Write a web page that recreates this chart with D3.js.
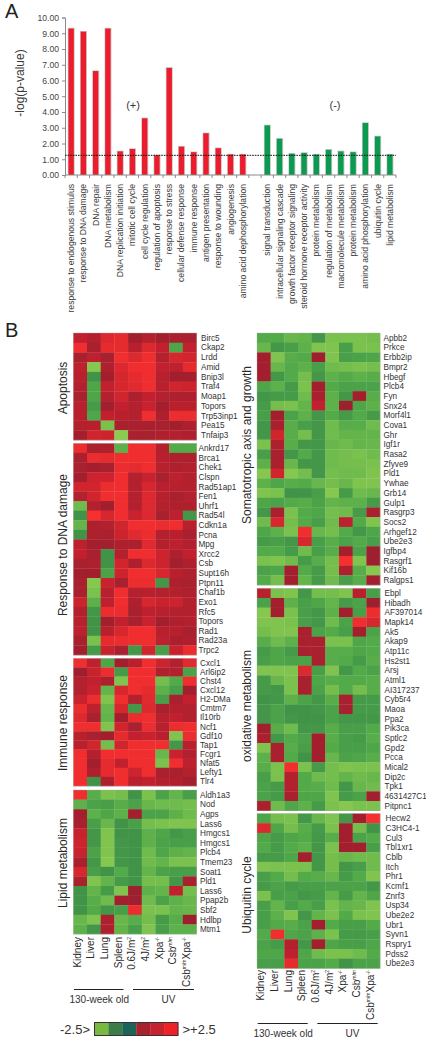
<!DOCTYPE html>
<html><head><meta charset="utf-8">
<script src="https://cdn.jsdelivr.net/npm/d3@7"></script>
<style>html,body{margin:0;padding:0;background:#fff}svg{display:block}text{font-family:"Liberation Sans",Arial,sans-serif}</style>
</head><body><svg id="c" width="426" height="1050"></svg>
<script>
const enrichLabels=["response to endogenous stimulus","response to DNA damage","DNA repair","DNA metabolism","DNA replication initiation","mitotic cell cycle","cell cycle regulation","regulation of apoptosis","response to stress","cellular defense response","immune response","antigen presentation","response to wounding","angiogenesis","amino acid dephosphorylation"];
const enrichValues=[9.3,9.1,6.6,9.3,1.5,1.65,3.6,1.25,6.8,1.8,1.45,2.65,1.7,1.3,1.3];
const depleteLabels=["signal transduction","intracellular signaling cascade","growth factor receptor signaling","steroid hormone receptor activity","protein metabolism","regulation of metabolism","macromolecule metabolism","protein metabolism","amino acid phosphorylation","ubiquitin cycle","lipid metabolism"];
const depleteValues=[3.15,2.3,1.35,1.4,1.3,1.6,1.5,1.45,3.3,2.45,1.3];
const thresholdValue=1.25;
const yTicks=[0,1,2,3,4,5,6,7,8,9,10];

const apoptosisGenes=["Birc5","Ckap2","Lrdd","Amid","Bnip3l","Traf4","Moap1","Topors","Trp53inp1","Pea15","Tnfaip3"];
const apoptosisRows=[
[1.5,1.2,2.0,2.2,0.9,1.2,0.9,1.0,1.0],
[2.4,1.0,2.2,2.2,1.3,2.0,1.5,-1.4,1.5],
[1.0,1.4,1.0,2.4,2.0,2.4,1.2,1.9,1.8],
[1.4,-2.4,1.1,2.0,2.4,2.4,1.5,1.4,2.2],
[1.3,-0.9,0.9,1.9,2.2,2.4,1.3,0.9,0.9],
[1.2,-1.4,1.5,1.9,2.1,2.4,1.3,1.8,1.7],
[1.0,-1.4,1.2,1.8,1.1,1.5,1.2,1.1,1.1],
[1.3,-1.1,0.9,1.5,1.2,1.6,0.9,1.3,1.3],
[1.3,-1.4,1.5,1.3,1.2,2.4,1.1,2.3,2.3],
[1.2,1.3,-2.2,1.0,1.0,1.0,1.0,0.9,1.1],
[0.9,1.8,1.7,-2.5,1.0,1.0,1.1,1.2,1.1]];
const damageGenes=["Ankrd17","Brca1","Chek1","Clspn","Rad51ap1","Fen1","Uhrf1","Rad54l","Cdkn1a","Pcna","Mpg","Xrcc2","Csb","Supt16h","Ptpn11","Chaf1b","Exo1","Rfc5","Topors","Rad1","Rad23a","Trpc2"];
const damageRows=[
[2.3,1.0,1.1,-1.7,2.4,2.4,1.2,-1.5,-1.5],
[1.0,2.3,2.2,2.4,2.4,2.4,1.3,1.1,1.1],
[1.0,0.9,1.0,2.3,2.2,2.4,1.3,1.1,1.2],
[0.9,1.7,1.7,2.4,1.2,1.6,1.0,1.4,1.2],
[1.8,1.8,2.3,2.4,1.2,1.9,1.3,1.3,1.2],
[1.2,1.8,2.4,2.4,1.2,2.0,1.3,1.0,1.2],
[-2.0,1.2,0.9,2.4,1.2,2.0,1.2,1.1,1.1],
[-0.9,2.5,1.9,2.4,1.6,2.0,1.0,1.4,-1.0],
[-1.8,1.1,1.2,1.8,2.4,2.4,2.3,2.4,1.3],
[-0.9,1.1,1.0,1.7,2.1,2.3,1.2,1.3,1.0],
[1.4,0.9,0.9,1.1,1.0,2.1,1.2,1.4,1.2],
[1.5,1.0,-0.9,1.2,2.4,2.4,1.7,1.1,1.5],
[1.0,1.1,-0.9,1.8,1.1,2.0,1.7,0.9,1.1],
[0.9,0.9,-1.3,1.7,2.4,2.4,1.9,1.3,1.1],
[1.0,-2.4,1.6,1.0,2.3,2.3,-1.0,1.1,1.0],
[1.0,-2.2,1.3,2.4,1.2,1.3,1.2,1.2,1.1],
[1.7,-1.7,1.4,2.4,1.1,1.9,1.6,1.7,1.2],
[1.2,-1.0,2.3,2.3,1.0,1.4,1.3,1.2,1.2],
[1.3,-0.9,0.9,1.5,1.0,1.6,0.9,1.1,1.2],
[1.4,-0.9,1.3,1.9,2.4,2.4,1.3,1.3,1.0],
[1.0,-2.2,2.2,2.3,2.4,2.4,1.4,1.0,1.1],
[0.9,-1.1,1.6,1.0,-1.0,1.8,-1.2,1.6,2.3]];
const immuneGenes=["Cxcl1","Arl6ip2","Chst4","Cxcl12","H2-DMa","Cmtm7","Il10rb","Ncf1","Gdf10","Tap1","Fcgr1","Nfat5","Lefty1","Tlr4"];
const immuneRows=[
[2.4,1.4,-1.4,0.9,1.3,2.4,1.7,1.2,2.1],
[0.8,1.6,2.3,-1.1,2.4,2.4,1.1,1.2,-1.3],
[1.2,1.5,1.1,-2.3,2.4,2.4,-2.1,-1.5,2.4],
[1.2,1.6,-1.8,1.9,2.4,2.2,-1.7,-1.2,0.9],
[1.6,2.3,-2.3,2.4,1.2,2.1,-1.2,1.0,1.5],
[2.3,1.4,-1.9,1.9,-1.0,2.0,1.0,1.2,1.2],
[2.0,1.0,-1.8,0.9,2.3,2.4,1.3,1.5,1.2],
[2.4,2.4,-2.3,1.8,1.0,2.3,1.3,2.3,2.4],
[1.3,1.0,0.9,2.2,1.5,1.6,1.3,-2.3,2.3],
[1.3,1.8,-2.1,1.8,2.4,2.4,2.4,-1.0,1.3],
[2.4,1.2,2.4,2.4,2.4,2.4,-1.9,1.6,1.2],
[2.4,0.9,2.2,1.5,2.4,2.4,-2.2,2.4,1.4],
[2.4,1.1,2.2,2.4,1.7,2.4,1.0,1.0,1.2],
[2.4,-0.9,1.1,2.4,1.3,1.5,1.2,1.1,0.9]];
const lipidGenes=["Aldh1a3","Nod","Agps","Lass6","Hmgcs1","Hmgcs1","Plcb4","Tmem23","Soat1","Pld1","Lass6","Ppap2b","Sbf2","Hdlbp","Mtm1"];
const lipidRows=[
[2.4,-1.6,-2.2,-2.1,-0.9,-2.2,-1.3,-1.8,-1.2],
[-1.7,-1.3,-1.2,-1.6,-1.3,-1.9,-2.0,-2.0,-2.1],
[0.9,-1.7,-1.4,-1.7,0.9,-1.3,-1.3,-1.7,-2.0],
[1.0,-1.2,-1.9,-0.9,-1.2,-2.1,-2.2,-2.3,-2.3],
[1.6,-1.0,-2.3,-0.9,-0.9,-1.7,-1.4,-1.0,-1.2],
[1.7,-1.0,-2.3,-1.0,-0.9,-1.7,-1.3,-1.2,-1.2],
[1.6,-1.3,-2.3,-1.0,-0.9,-2.0,-1.4,-1.7,-1.8],
[1.0,-1.0,-2.4,-1.0,-0.9,-2.0,-1.8,-2.2,-2.2],
[1.9,-1.2,-0.9,-1.5,-0.9,-1.8,-1.3,-1.2,-1.2],
[1.0,-2.3,-1.8,-1.1,-0.9,-2.1,-2.1,-1.0,1.0],
[-0.9,-1.8,-1.1,-2.3,0.8,-1.7,-1.8,1.5,-2.1],
[-0.9,-1.6,-2.0,0.9,0.8,-2.0,-1.3,-1.7,-1.9],
[-0.9,-1.5,-1.0,-1.2,2.3,-2.2,-2.2,-1.8,-1.9],
[-1.9,-2.3,1.1,-1.9,-1.6,-2.1,-1.1,-1.6,0.8],
[-1.7,-1.0,1.1,-1.8,-1.2,-2.3,-1.2,-1.7,-1.7]];
const somatoGenes=["Apbb2","Prkce","Erbb2ip","Bmpr2","Hbegf","Plcb4","Fyn","Snx24","Morf4l1","Cova1","Ghr","Igf1r","Rasa2","Zfyve9","Pld1","Ywhae","Grb14","Gulp1","Rasgrp3","Socs2","Arhgef12","Ube2e3","Igfbp4","Rasgrf1","Kif16b","Ralgps1"];
const somatoRows=[
[-1.5,-1.5,-1.9,-1.8,-1.0,-2.2,-2.2,-2.2,-2.1],
[-1.9,-1.0,-1.2,-1.7,-2.3,-2.3,-1.2,-2.2,-2.2],
[0.9,-2.3,-1.6,-1.5,0.8,-2.3,-1.2,-1.3,-1.4],
[0.9,-1.9,-1.5,-1.7,-1.2,-2.0,-2.1,-2.2,-2.1],
[0.9,-1.0,-1.5,-2.1,-1.0,-1.7,-1.5,-1.7,-1.6],
[-1.4,-1.7,-1.1,-2.2,0.9,-1.5,-1.3,-1.3,-1.3],
[-1.0,-1.1,-1.1,-2.0,1.0,-1.7,-1.0,0.9,-1.6],
[-1.1,-2.1,-2.2,-1.8,1.5,-1.7,0.8,-1.4,-1.7],
[-1.2,0.9,-1.3,-1.7,-1.0,-1.5,-1.1,-1.5,-1.1],
[-1.0,1.0,-1.6,-1.2,-1.0,-2.0,-1.6,-1.6,-2.0],
[-1.0,1.8,-1.6,-2.1,-1.0,-2.0,-1.8,-1.8,-1.8],
[-2.2,1.1,-1.6,-1.0,-1.0,-1.9,-2.0,-1.8,-1.9],
[-1.2,1.0,-1.0,-1.5,-1.0,-2.0,-2.1,-2.2,-2.0],
[-1.7,1.0,-1.9,-1.0,-1.0,-2.0,-2.1,-2.1,-2.2],
[-2.4,1.8,-2.4,-2.1,-1.0,-2.1,-2.0,-2.0,-2.3],
[-1.7,-1.4,-1.6,-1.5,-1.9,-2.1,-1.9,-2.3,-2.3],
[-2.3,-2.2,-0.9,-0.9,-1.2,-2.4,-1.1,-2.0,-1.9],
[-1.4,-1.3,-1.5,-1.6,-1.3,-1.8,-1.7,-1.7,-1.1],
[-1.0,1.0,-2.2,-1.5,-1.4,-2.1,-2.0,-1.1,1.0],
[-2.0,1.9,-2.1,-1.5,-1.2,-2.0,1.4,-1.5,-2.3],
[-1.4,-1.7,-2.2,2.4,-1.9,-2.1,-1.5,-1.0,-1.4],
[-1.1,-1.2,-1.0,1.9,-1.2,-1.6,-1.3,-1.5,-1.2],
[-1.5,-1.5,-1.1,-2.0,-1.2,-1.6,0.9,-1.3,0.8],
[-2.2,-2.3,-2.0,-1.1,-1.6,-2.1,2.5,-2.3,0.8],
[-1.3,-1.4,0.9,-1.5,-1.1,-2.1,1.1,-1.6,-2.4],
[-1.5,-2.1,0.9,-1.8,-1.1,-2.0,-1.2,-1.6,0.9]];
const oxidativeGenes=["Ebpl","Hibadh","AF397014","Mapk14","Ak5","Akap9","Atp11c","Hs2st1","Arsj","Atml1","AI317237","Cyb5r4","Maoa","Ppa2","Pik3ca","Sptlc2","Gpd2","Pcca","Mical2","Dip2c","Tpk1","4631427C1","Pitpnc1"];
const oxidativeRows=[
[1.3,-2.2,-2.3,-1.0,-2.1,-2.1,-2.3,1.3,-1.2],
[-1.3,0.9,-1.7,-1.2,-1.4,-1.8,-1.1,-1.3,0.8],
[-2.4,0.9,-2.2,-1.2,-1.0,-1.7,0.9,-1.2,2.3],
[-2.3,-2.3,-2.2,-1.2,-1.0,-2.0,-1.3,2.4,1.9],
[-2.1,-2.3,-2.3,1.0,-1.3,-1.5,-1.2,0.9,-1.3],
[-1.6,-2.0,-1.7,1.0,1.0,-2.2,-2.2,-1.4,-1.5],
[-1.1,-1.4,-1.1,1.0,1.0,-1.6,-1.6,-1.4,-1.5],
[-1.2,-1.4,-1.3,-1.3,1.0,-1.6,-1.5,-1.1,-1.6],
[-2.3,-2.3,-2.3,2.0,-1.2,-2.3,-1.0,-1.5,-1.3],
[-1.1,-1.9,-2.2,1.0,-1.4,-1.6,-1.5,-1.5,-1.6],
[-1.1,-1.0,-2.2,1.0,-1.3,-2.1,-1.5,-2.1,-1.6],
[-0.9,-1.0,-1.7,-1.3,-1.0,-1.6,1.0,-1.1,-1.1],
[-1.0,-1.3,-0.9,-0.9,-1.0,-1.3,1.0,-1.1,-1.1],
[-1.0,-1.3,-1.0,-0.9,-0.9,-1.3,-1.0,-1.0,-1.0],
[0.9,-1.6,-2.0,-1.0,-1.0,-1.6,-1.2,-1.2,-1.5],
[1.0,-1.0,-1.5,-1.3,0.9,-1.6,-1.2,-1.1,-1.6],
[-2.3,1.0,-1.6,-1.2,0.9,-1.5,-1.2,-1.2,-1.4],
[-1.7,1.0,-1.5,-0.9,0.9,-1.9,-1.3,-1.4,-1.6],
[-1.6,-2.2,2.4,-2.2,-1.1,-2.1,-2.3,-2.2,-2.2],
[-1.2,-2.2,1.2,-1.5,-2.0,-2.1,-1.8,-2.0,-1.9],
[-1.3,-1.1,1.2,-1.5,-1.6,-2.0,-1.0,-1.9,-2.0],
[-1.3,-1.1,1.0,-1.4,-1.4,-2.3,-1.1,-1.3,0.9],
[1.0,-2.0,-1.4,-1.7,-1.1,-2.2,-2.4,-2.2,-2.2]];
const ubiquitinGenes=["Hecw2","C3HC4-1","Cul3","Tbl1xr1","Cblb","Itch","Phr1","Kcmf1","Znrf3","Usp34","Ube2e2","Ubr1","Syvn1","Rspry1","Pdss2","Ube2e3"];
const ubiquitinRows=[
[-1.4,-2.1,-2.2,-1.0,-1.9,-2.3,-1.0,0.9,2.5],
[2.0,-1.4,-2.1,-1.6,-1.1,-2.2,0.9,-2.1,-0.9],
[-1.4,-1.1,-1.4,-1.5,-1.0,-1.6,0.9,-1.3,-1.5],
[-1.5,-1.1,-1.5,-1.7,-1.0,-2.2,0.9,0.9,-1.2],
[-1.1,-1.1,-1.4,0.9,-1.0,-2.1,-1.9,-2.0,-2.0],
[-2.3,-2.2,-2.2,-2.2,-1.0,-2.1,-1.0,-1.2,-2.0],
[-1.2,-1.5,-2.1,-1.5,-1.6,-1.9,-1.1,-1.5,-2.3],
[-1.1,-1.3,-1.1,-1.2,-1.2,-1.3,-1.3,-1.3,-1.0],
[-2.2,-1.2,-1.3,-1.0,-1.1,-1.8,-1.1,-1.8,-1.4],
[-1.2,-1.8,-1.2,-1.5,-1.2,-2.2,-1.8,-1.9,-2.3],
[-1.2,-1.7,-2.3,-1.0,-1.8,-2.2,-1.5,-2.2,-2.3],
[-1.2,-1.5,-1.6,-1.3,0.9,-1.5,-1.2,-1.2,-1.5],
[-1.5,2.4,-1.4,-1.3,-1.7,-2.2,-1.1,-1.1,-1.2],
[-1.3,-1.1,1.2,-1.0,0.9,-1.4,-1.2,-1.2,-1.4],
[-1.4,-1.4,1.4,-1.4,-2.0,-2.2,-2.2,-2.0,-1.5],
[-1.2,-1.2,2.2,-1.3,-1.3,-1.5,-0.9,-1.3,-1.3]];
const sampleIds=["Kidney","Liver","Lung","Spleen","0.6J","4J","Xpa","Csb","CsbXpa"];
const legendValues=[-2.5,-1.5,-0.5,0.5,1.5,2.5];
const legendColors=["#7ab93f","#3a7d48","#1c6458","#a8222e","#c4242f","#ee2226"];

const svg=d3.select("#c");
const INK="#3a3a3a";

/* ---------- Panel A ---------- */
const slotNames=[...enrichLabels.map((d,i)=>"p"+i),"gap",...depleteLabels.map((d,i)=>"n"+i)];
const xA=d3.scaleBand().domain(slotNames).range([65,396]);
const yA=d3.scaleLinear().domain([0,10]).range([175,17.5]);
const barW=5.4;
const barsData=[
 ...enrichValues.map((v,i)=>({k:"p"+i,v,c:"#ec1c2d",l:enrichLabels[i]})),
 ...depleteValues.map((v,i)=>({k:"n"+i,v,c:"#0b9a50",l:depleteLabels[i]}))];
const gA=svg.append("g");
gA.selectAll("rect.sh").data(barsData).join("rect").attr("class","sh")
 .attr("x",d=>xA(d.k)+xA.bandwidth()/2-barW/2-0.7).attr("width",barW+1.6)
 .attr("y",d=>yA(d.v)-0.7).attr("height",d=>yA(0)-yA(d.v)+0.7).attr("fill","#c9c9c9");
gA.selectAll("rect.b").data(barsData).join("rect").attr("class","b")
 .attr("x",d=>xA(d.k)+xA.bandwidth()/2-barW/2).attr("width",barW)
 .attr("y",d=>yA(d.v)).attr("height",d=>yA(0)-yA(d.v)).attr("fill",d=>d.c);
const axL=gA.append("g").attr("transform","translate(65,0)")
 .call(d3.axisLeft(yA).tickValues(yTicks).tickFormat(d3.format(".2f")).tickSize(3));
axL.selectAll("path,line").attr("stroke","#8a8a8a");
axL.selectAll("text").attr("fill","#444").attr("font-size",8.6).attr("x",-6);
const axB=gA.append("g").attr("transform","translate(0,175)");
axB.append("line").attr("x1",65).attr("x2",396).attr("stroke","#8a8a8a");
axB.selectAll("line.t").data(slotNames.concat(["end"])).join("line").attr("class","t")
 .attr("x1",(d,i)=>i<slotNames.length?xA(d):396).attr("x2",(d,i)=>i<slotNames.length?xA(d):396)
 .attr("y1",0).attr("y2",3).attr("stroke","#8a8a8a");
gA.selectAll("text.cat").data(barsData).join("text").attr("class","cat")
 .attr("transform",d=>`translate(${xA(d.k)+xA.bandwidth()/2+3},184) rotate(-90)`)
 .attr("text-anchor","end").attr("font-size",8.6).attr("fill","#3d3d3d").text(d=>d.l);
gA.append("line").attr("x1",65).attr("x2",396).attr("y1",yA(thresholdValue)).attr("y2",yA(thresholdValue))
 .attr("stroke","#111").attr("stroke-width",1).attr("stroke-dasharray","1.6 1");
gA.append("text").attr("transform","translate(24,83) rotate(-90)").attr("text-anchor","middle").attr("font-size",12).attr("fill",INK).text("-log(p-value)");
gA.append("text").attr("x",133).attr("y",109).attr("text-anchor","middle").attr("font-size",11).attr("fill",INK).text("(+)");
gA.append("text").attr("x",335).attr("y",109).attr("text-anchor","middle").attr("font-size",11).attr("fill",INK).text("(-)");
svg.append("text").attr("x",5).attr("y",18).attr("font-size",20).attr("fill","#222").text("A");
svg.append("text").attr("x",5).attr("y",337).attr("font-size",20).attr("fill","#222").text("B");

/* ---------- Panel B ---------- */
const heatColor=d3.scaleLinear()
 .domain([-2.5,-1.5,-0.5,0.5,1.5,2.5])
 .range(["#8ccb50","#52aa49","#358448","#8f1f2d","#c2202e","#f5302f"]);

function heat(genes,rows,x0,x1,y0,y1,title,titleX,titleY,labelX){
  const x=d3.scaleBand().domain(sampleIds).range([x0,x1]);
  const y=d3.scaleBand().domain(genes.map((g,i)=>i)).range([y0,y1]);
  const g=svg.append("g");
  rows.forEach((r,ri)=>{
    g.selectAll(null).data(r).join("rect")
     .attr("x",(d,i)=>x(sampleIds[i])).attr("y",y(ri))
     .attr("width",x.bandwidth()+0.3).attr("height",y.bandwidth()+0.3)
     .attr("fill",d=>heatColor(d));
  });
  g.append("rect").attr("x",x0).attr("y",y0).attr("width",x1-x0).attr("height",y1-y0)
   .attr("fill","none").attr("stroke","#aaa").attr("stroke-width",0.5).attr("stroke-opacity",0.7);
  g.selectAll("text.g").data(genes).join("text").attr("class","g")
   .attr("x",labelX).attr("y",(d,i)=>y(i)+y.bandwidth()/2+2.9)
   .attr("font-size",8.2).attr("fill","#333").text(d=>d);
  svg.append("text").attr("transform",`translate(${titleX},${titleY}) rotate(-90)`)
   .attr("text-anchor","middle").attr("font-size",12).attr("fill","#2a2a2a").text(title);
}
heat(apoptosisGenes,apoptosisRows,73.3,196.5,333,440,"Apoptosis",66.5,388,201);
heat(damageGenes,damageRows,73.3,196.5,443.3,655,"Response to DNA damage",66.5,545,198.5);
heat(immuneGenes,immuneRows,73.3,196.5,658.3,786,"Immune response",66.5,723,200);
heat(lipidGenes,lipidRows,73.3,196.5,790,934,"Lipid metabolism",66.5,863,200);
heat(somatoGenes,somatoRows,257,380,333,585,"Somatotropic axis and growth",251,445,383.5);
heat(oxidativeGenes,oxidativeRows,257,380,588.3,810.7,"oxidative metabolism",251,706,384.5);
heat(ubiquitinGenes,ubiquitinRows,257,380,813.5,968.3,"Ubiquitin cycle",251,895,385.5);

function sampleLabels(x0,x1,top,dx){
  const x=d3.scaleBand().domain(sampleIds).range([x0,x1]);
  const g=svg.append("g").attr("font-size",10).attr("fill","#2a2a2a");
  sampleIds.forEach(id=>{
    const t=g.append("text").attr("text-anchor","end")
      .attr("transform",`translate(${x(id)+x.bandwidth()/2+dx},${top}) rotate(-90)`);
    const sup=(s)=>t.append("tspan").attr("font-size",5).attr("dy",-4).text(s);
    const nor=(s,b)=>t.append("tspan").attr("dy",b?4:0).text(s);
    if(id==="0.6J"||id==="4J"){nor(id+"/m");sup("2");}
    else if(id==="Xpa"){nor("Xpa");sup("-/-");}
    else if(id==="Csb"){nor("Csb");sup("m/m");}
    else if(id==="CsbXpa"){nor("Csb");sup("m/m");nor("Xpa",true);sup("-/-");}
    else nor(id);
  });
}
function groupBars(x1a,x1b,x2a,x2b,y,textY){
  const g=svg.append("g");
  [[x1a,x1b],[x2a,x2b]].forEach(p=>g.append("line").attr("x1",p[0]).attr("x2",p[1]).attr("y1",y).attr("y2",y).attr("stroke","#222").attr("stroke-width",1));
  g.append("text").attr("x",(x1a+x1b)/2+0.5).attr("y",textY).attr("text-anchor","middle").attr("font-size",10).attr("fill","#333").text("130-week old");
  g.append("text").attr("x",(x2a+x2b)/2+5).attr("y",textY).attr("text-anchor","middle").attr("font-size",10).attr("fill","#333").text("UV");
}
sampleLabels(73.3,196.5,937,0.5);
sampleLabels(257,380,970,0.5);
groupBars(74,123.5,133,194,989.5,1003);
groupBars(257.7,307.7,317.3,377.7,1023.5,1037);

/* legend */
const xL=d3.scaleBand().domain(legendValues).range([94.5,178]);
const gL=svg.append("g");
gL.selectAll("rect").data(legendValues).join("rect")
 .attr("x",d=>xL(d)).attr("y",1022.5).attr("width",xL.bandwidth()+0.2).attr("height",13)
 .attr("fill",(d,i)=>legendColors[i]);
gL.append("rect").attr("x",94.5).attr("y",1022.5).attr("width",83.5).attr("height",13).attr("fill","none").attr("stroke","#333").attr("stroke-width",1);
gL.append("text").attr("x",90).attr("y",1033.5).attr("text-anchor","end").attr("font-size",13).attr("fill","#333").text("-2.5>");
gL.append("text").attr("x",182.5).attr("y",1033.5).attr("font-size",13).attr("fill","#333").text(">+2.5");
</script></body></html>
